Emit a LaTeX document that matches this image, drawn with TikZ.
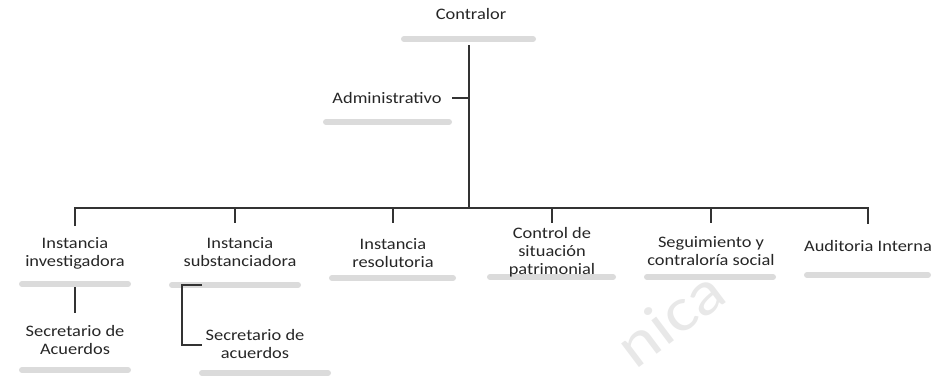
\documentclass[tikz,border=0pt]{standalone}
\usepackage{fontspec}
\setmainfont{Carlito}[FakeStretch=1.15]
\usepackage{tikz}

\tikzset{
  unit/.style={align=center, inner sep=0pt, text=black!85, font=\fontsize{16}{18}\selectfont},
  bar/.style={line width=6pt, black!14, line cap=round},
  link/.style={line width=1.1pt, black!80}
}

\begin{document}
\begin{tikzpicture}[x=1pt,y=-1pt]
\useasboundingbox (0,0) rectangle (938,376);
% watermark
\node[rotate=37, inner sep=0pt, text=black!9, font=\fontsize{62}{62}\selectfont] (mark) at (670,318) {nica};
% blurred name lines
\draw[bar] (404,39) -- (533,39);
\draw[bar] (326,122) -- (449,122);
\draw[bar] (22,284) -- (128,284);
\draw[bar] (172,285) -- (298,285);
\draw[bar] (332,278) -- (453,278);
\draw[bar] (490,277) -- (613,277);
\draw[bar] (647,277) -- (773,277);
\draw[bar] (807,275) -- (928,275);
\draw[bar] (22,370) -- (128,370);
\draw[bar] (202,373) -- (328,373);
% top
\node[unit] (contralor) at (471,14) {Contralor};
\node[unit] (admin) at (387,98) {Administrativo};
\coordinate (top) at (469,45);
\coordinate (bus) at (469,208);
\draw[link] (top) -- (bus);
\draw[link] (452,98) -- (469,98);
\draw[link] (75,226) -- (75,208) -- (868,208) -- (868,224);
% second level
\node[unit] (inv) at (75,253) {Instancia\\investigadora};
\node[unit] (sub) at (240,252) {Instancia\\substanciadora};
\node[unit] (res) at (393,253) {Instancia\\resolutoria};
\node[unit] (csp) at (552,252) {Control de\\situación\\patrimonial};
\node[unit] (seg) at (711,251) {Seguimiento y\\contraloría social};
\node[unit] (aud) at (868,246) {Auditoria Interna};
\foreach \x in {235,393,552,711}
  \draw[link] (\x,208) -- (\x,223);
% third level
\node[unit] (secA) at (75,340) {Secretario de\\Acuerdos};
\node[unit] (secB) at (255,344) {Secretario de\\acuerdos};
\draw[link] (75,287) -- (75,313);
\draw[link] (202,285) -- (182,285) -- (182,345) -- (202,345);
\end{tikzpicture}
\end{document}
